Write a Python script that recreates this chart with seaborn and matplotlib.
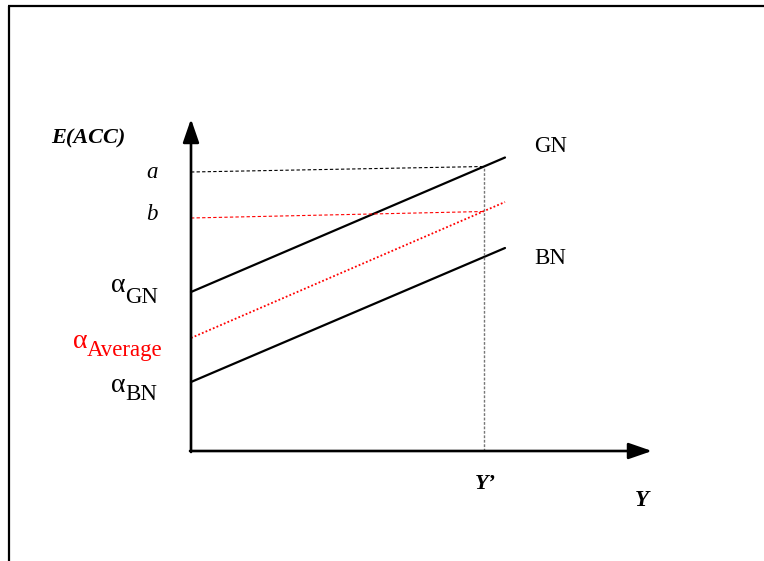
import matplotlib
matplotlib.use("Agg")
import matplotlib.pyplot as plt
import numpy as np
import pandas as pd
import seaborn as sns

# schematic values (units: px from origin, y measured upward)
y_prime = 293
x_end = 314
groups = ["GN", "Average", "BN"]
intercepts = [159, 113, 69]
line_ends = [293.5, 249, 203]
a_line = [279, 284.5]
b_line = [233, 239.5]
x_tip = 461
y_tip = 332

sns.set_style("white")
plt.rcParams["font.family"] = ["Liberation Serif", "DejaVu Serif"]
plt.rcParams["text.color"] = "black"

fig = plt.figure(figsize=(7.64, 5.61), dpi=100)
ax = fig.add_axes([0, 0, 1, 1])
ax.set_xlim(-191, 573)
ax.set_ylim(-110, 451)
ax.axis("off")

df = pd.DataFrame({
    "x": [0, x_end] * 3,
    "y": [v for pair in zip(intercepts, line_ends) for v in pair],
    "group": [g for g in groups for _ in range(2)],
})

# GN / BN solid lines
for g in ["GN", "BN"]:
    sns.lineplot(data=df[df.group == g], x="x", y="y", color="black", lw=1.6, ax=ax)
# average red dotted
sns.lineplot(data=df[df.group == "Average"], x="x", y="y", color="red", lw=1.3,
             ax=ax, linestyle=(0, (1, 1.2)))

# horizontal reference lines a and b
sns.lineplot(x=[0, y_prime], y=a_line, color="black", lw=0.8, ax=ax, linestyle=(0, (3, 2)))
sns.lineplot(x=[0, y_prime], y=b_line, color="red", lw=0.8, ax=ax, linestyle=(0, (3, 2)))
# vertical at Y'
sns.lineplot(x=[y_prime, y_prime], y=[0, a_line[1]], color="#777777", lw=1.0, ax=ax,
             estimator=None, sort=False, linestyle=(0, (2, 1.2)))

# axes with arrows
arrow = dict(arrowstyle="-|>,head_length=1.1,head_width=0.38", lw=1.9, color="black",
             shrinkA=0, shrinkB=0, mutation_scale=13)
ax.annotate("", xy=(0, y_tip), xytext=(0, -1), arrowprops=arrow)
ax.annotate("", xy=(x_tip, 0), xytext=(-1, 0), arrowprops=arrow)

# frame
ax.plot([-183, 573], [445, 445], color="black", lw=1.6, solid_capstyle="butt")
ax.plot([-182, -182], [445, -110], color="black", lw=1.6, solid_capstyle="butt")

fs = 16.5
ax.text(-140, 308, "E(ACC)", fontsize=fs - 0.5, fontweight="bold", style="italic",
        ha="left", va="baseline")
ax.text(-33, 273, "a", fontsize=fs, style="italic", ha="right", va="baseline")
ax.text(-33, 231, "b", fontsize=fs, style="italic", ha="right", va="baseline")

# alpha labels
fa = 20
ax.text(-65, 159, "α", fontsize=fa, ha="right", va="baseline")
ax.text(-66, 148, "GN", fontsize=fs, ha="left", va="baseline")
ax.text(-103, 103, "α", fontsize=fa, ha="right", va="baseline", color="red")
ax.text(-104, 95, "Average", fontsize=fs, ha="left", va="baseline", color="red")
ax.text(-65, 59, "α", fontsize=fa, ha="right", va="baseline")
ax.text(-66, 51, "BN", fontsize=fs, ha="left", va="baseline")

ax.text(343, 299, "GN", fontsize=fs, ha="left", va="baseline")
ax.text(343, 187, "BN", fontsize=fs, ha="left", va="baseline")

ax.text(y_prime - 9, -38, "Y’", fontsize=fs - 0.5, fontweight="bold", style="italic",
        ha="left", va="baseline")
ax.text(444, -55, "Y", fontsize=fs, fontweight="bold", style="italic",
        ha="left", va="baseline")

fig.savefig("out.png", dpi=100, facecolor="white")
